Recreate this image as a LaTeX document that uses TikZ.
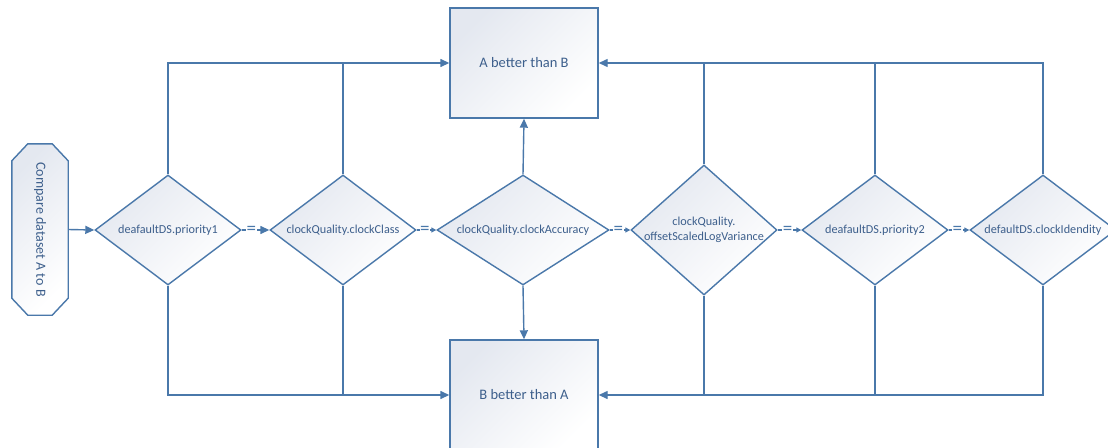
\documentclass[tikz,border=0pt]{standalone}
\usepackage{fontspec}
\setmainfont{Carlito}
\usetikzlibrary{shapes.geometric,arrows.meta}
\definecolor{linec}{HTML}{4A78AA}
\definecolor{textc}{HTML}{3D5F8C}
\definecolor{shadec}{HTML}{E4E8F0}
\tikzset{
  shaded/.style={draw=linec, line width=1.4pt, top color=shadec, bottom color=white, shading angle=45},
  decision/.style={shaded, diamond, inner sep=0pt, minimum width=#1, minimum height=110pt},
  outcome/.style={shaded, rectangle, inner sep=0pt, minimum width=148pt, minimum height=110pt,
    text=textc, font=\fontsize{14.5}{16}\selectfont},
  lbl/.style={text=textc, font=\fontsize{12.2}{15.5}\selectfont, align=center, inner sep=0pt},
  conn/.style={draw=linec, line width=1.4pt},
  bigtip/.style={-{Triangle[length=9pt,width=8pt]}},
  smalltip/.style={-{Triangle[length=5pt,width=5pt]}},
  eqmark/.style={fill=white, text=linec, inner xsep=0.5pt, inner ysep=0pt, font=\fontsize{19}{19}\selectfont}
}
\begin{document}
\begin{tikzpicture}[x=1pt,y=-1pt]
\useasboundingbox (0,0) rectangle (1108,447);

% start terminal: a frame with chamfered corners
\node[minimum width=56pt, minimum height=171pt, inner sep=0pt] (start) at (40,229.5) {};
\path[shaded]
  ([xshift=16pt]start.north west) -- ([xshift=-16pt]start.north east)
  -- ([yshift=-17pt]start.north east) -- ([yshift=17pt]start.south east)
  -- ([xshift=-16pt]start.south east) -- ([xshift=16pt]start.south west)
  -- ([yshift=17pt]start.south west) -- ([yshift=-17pt]start.north west) -- cycle;
\node[lbl, rotate=-90, font=\fontsize{14}{16}\selectfont] (starttxt) at (start) {Compare dataset A to B};

% outcome boxes
\node[outcome] (A) at (524,63) {A better than B};
\node[outcome] (B) at (524,395) {B better than A};

% comparison chain
\node[decision=146pt] (d1) at (168,230) {};
\node[decision=146pt] (d2) at (343,230) {};
\node[decision=172pt] (d3) at (523,230) {};
\node[decision=146pt, minimum height=130pt] (d4) at (704,230) {};
\node[decision=146pt] (d5) at (875,230) {};
\node[decision=146pt] (d6) at (1043,230) {};

\node[lbl] (t1) at (d1) {deafaultDS.priority1};
\node[lbl] (t2) at (d2) {clockQuality.clockClass};
\node[lbl] (t3) at (d3) {clockQuality.clockAccuracy};
\node[lbl] (t4) at (d4) {clockQuality.\\offsetScaledLogVariance};
\node[lbl] (t5) at (d5) {deafaultDS.priority2};
\node[lbl] (t6) at (d6) {defaultDS.clockIdendity};

% start into the chain
\draw[conn, bigtip] (start.east) -- (d1.west);

% equal: go on to the next criterion
\draw[conn, bigtip] (d1.east) -- node[eqmark, pos=0.35] (e1) {=} (d2.west);
\draw[conn, smalltip] (d2.east) -- node[eqmark, pos=0.42] (e2) {=} (d3.west);
\draw[conn, smalltip] (d3.east) -- node[eqmark, pos=0.42] (e3) {=} (d4.west);
\draw[conn, smalltip] (d4.east) -- node[eqmark, pos=0.42] (e4) {=} (d5.west);
\draw[conn, smalltip] (d5.east) -- node[eqmark, pos=0.42] (e5) {=} (d6.west);

% upper branches: A better than B
\draw[conn, bigtip] (d1.north) |- (A.west);
\draw[conn] (d2.north) -- (d2.north |- A.west);
\draw[conn, bigtip] (d3.north) -- (A.south);
\draw[conn, bigtip] (d6.north) |- (A.east);
\draw[conn] (d4.north) -- (d4.north |- A.east);
\draw[conn] (d5.north) -- (d5.north |- A.east);

% lower branches: B better than A
\draw[conn, bigtip] (d1.south) |- (B.west);
\draw[conn] (d2.south) -- (d2.south |- B.west);
\draw[conn, bigtip] (d3.south) -- (B.north);
\draw[conn, bigtip] (d6.south) |- (B.east);
\draw[conn] (d4.south) -- (d4.south |- B.east);
\draw[conn] (d5.south) -- (d5.south |- B.east);
\end{tikzpicture}
\end{document}
